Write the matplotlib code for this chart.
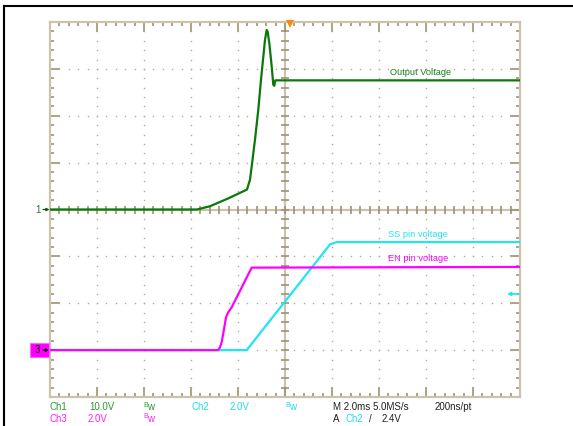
import matplotlib
matplotlib.use("Agg")
import matplotlib.pyplot as plt
import numpy as np
from matplotlib.lines import Line2D
from matplotlib.patches import Rectangle

plt.rcParams["font.family"] = ["Liberation Sans", "DejaVu Sans"]

# scope settings
ms_per_div = 2.0
trig_time = 0.2  # ms
trig_level = 2.4  # V on Ch2
ch1_scale, ch2_scale, ch3_scale = 10.0, 2.0, 2.0  # V/div
ch1_pos, ch2_pos, ch3_pos = 0.0, -3.0, -3.0  # ground position (div)

# Ch1: output voltage (ms, V)
out_t = [-10.0, -3.745, -3.19, -2.4, -1.617, -1.489, -1.417, -1.277, -1.136,
         -1.021, -0.923, -0.851, -0.779, -0.736, -0.668, -0.566, -0.498,
         -0.455, -0.413, 10.0]
out_v = [0.0, 0.0, 0.7, 2.4, 4.26, 6.38, 9.21, 14.9, 21.3,
         27.7, 32.6, 36.2, 38.3, 37.9, 35.5, 30.5, 26.6,
         26.4, 27.55, 27.55]

# Ch2: SS pin voltage
ss_t = [-10.0, -1.63, 1.915, 2.2, 10.0]
ss_v = [0.0, 0.0, 4.51, 4.61, 4.61]

# Ch3: EN pin voltage
en_t = [-10.0, -2.85, -2.766, -2.694, -2.596, -2.511, -2.413, -2.268, -1.417, 10.0]
en_v = [0.0, 0.0, 0.12, 0.34, 0.89, 1.40, 1.62, 1.83, 3.52, 3.55]

W, H = 573, 426
fig = plt.figure(figsize=(W / 100, H / 100), dpi=100)
fig.patch.set_facecolor("white")

# graticule area in pixels
gx0, gx1, gy0, gy1 = 50, 520, 22, 397
ax = fig.add_axes([gx0 / W, 1 - gy1 / H, (gx1 - gx0) / W, (gy1 - gy0) / H])
ax.set_xlim(-5 * ms_per_div, 5 * ms_per_div)
ax.set_ylim(-4, 4)

border_col = "#cbc3ad"
tick_col = "#9f9273"
dot_col = "#b3ab8e"

for sp in ax.spines.values():
    sp.set_color(border_col)
    sp.set_linewidth(1.6)

ax.set_xticks(np.arange(-10, 10.01, ms_per_div))
ax.set_xticks(np.arange(-10, 10.01, ms_per_div / 5), minor=True)
ax.set_yticks(np.arange(-4, 4.01, 1))
ax.set_yticks(np.arange(-4, 4.01, 0.2), minor=True)
ax.tick_params(which="both", direction="in", top=True, right=True,
               labelbottom=False, labelleft=False, color=tick_col, width=1.2)
ax.tick_params(which="major", length=7)
ax.tick_params(which="minor", length=3)

# dotted division lines
xdiv = [x for x in np.arange(-8, 8.01, ms_per_div) if abs(x) > 1e-6]
ydiv = [y for y in np.arange(-3, 3.01, 1) if abs(y) > 1e-6]
yfine = np.arange(-3.8, 3.81, 0.2)
xfine = np.arange(-9.6, 9.61, ms_per_div / 5)
gx, gy = np.meshgrid(xdiv, yfine)
ax.plot(gx.ravel(), gy.ravel(), ls="none", marker="s", ms=1.0, mew=0, color=dot_col)
gx, gy = np.meshgrid(xfine, ydiv)
ax.plot(gx.ravel(), gy.ravel(), ls="none", marker="s", ms=1.0, mew=0, color=dot_col)

# centre cross with ticks
ax.axhline(0, color=border_col, lw=1.6, zorder=1)
ax.axvline(0, color=border_col, lw=1.6, zorder=1)
ax.plot(xfine, np.zeros_like(xfine), ls="none", marker="|", ms=6, mew=1.2, color=tick_col)
ax.plot(np.zeros_like(yfine), yfine, ls="none", marker="_", ms=6, mew=1.2, color=tick_col)

# traces
ax.plot(ss_t, np.array(ss_v) / ch2_scale + ch2_pos, color="#22e4f2", lw=1.6, zorder=3)
ax.plot(en_t, np.array(en_v) / ch3_scale + ch3_pos, color="#ff00ff", lw=1.6, zorder=4)
ax.plot(out_t, np.array(out_v) / ch1_scale + ch1_pos, color="#0a780a", lw=1.6, zorder=5)

# trace labels
ax.text(4.47, 2.92, "Output Voltage", color="#1a7f1a", fontsize=6.7, va="center")
ax.text(4.38, -0.53, "SS pin voltage", color="#22e4f2", fontsize=6.7, va="center")
ax.text(4.38, -1.04, "EN pin voltage", color="#ff00ff", fontsize=6.7, va="center")

# trigger position marker
ax.plot([trig_time], [3.96], marker="v", ms=6, color="#ff8a00", mew=0,
        clip_on=False, zorder=6)

# trigger level arrow on the right
yt = ax.get_yaxis_transform()
ax.annotate("", xy=(1 - 13 / 470, trig_level / ch2_scale + ch2_pos),
            xytext=(1 - 1 / 470, trig_level / ch2_scale + ch2_pos),
            xycoords=yt, textcoords=yt,
            arrowprops=dict(arrowstyle="-|>", color="#22e4f2", lw=1.2,
                            mutation_scale=5, shrinkA=0, shrinkB=0))

# channel ground markers on the left
ax.text(-12 / 470, ch1_pos, "1", transform=yt, color="#1a7f1a", fontsize=7,
        ha="center", va="center", clip_on=False)
ax.annotate("", xy=(-0.5 / 470, ch1_pos), xytext=(-7 / 470, ch1_pos),
            xycoords=yt, textcoords=yt, annotation_clip=False,
            arrowprops=dict(arrowstyle="-|>", color="#1a4f1a", lw=0.9,
                            mutation_scale=4, shrinkA=0, shrinkB=0))
ax.add_patch(Rectangle((-20 / 470, ch3_pos - 7 / 47), 19 / 470, 14 / 47,
                       transform=yt, facecolor="#ff00ff", edgecolor="#ff66ff",
                       lw=0.8, clip_on=False, zorder=6))
ax.text(-13 / 470, ch3_pos, "3", transform=yt, color="black", fontsize=7,
        ha="center", va="center", clip_on=False, zorder=7)
ax.annotate("", xy=(-1 / 470, ch3_pos), xytext=(-7 / 470, ch3_pos),
            xycoords=yt, textcoords=yt, annotation_clip=False,
            arrowprops=dict(arrowstyle="-|>", color="black", lw=0.9,
                            mutation_scale=4, shrinkA=0, shrinkB=0), zorder=7)

# outer frame
fig.add_artist(Line2D([4 / W, 4 / W], [0, 1 - 6 / H], color="black", lw=1.5))
fig.add_artist(Line2D([4 / W, 1], [1 - 6 / H, 1 - 6 / H], color="black", lw=1.5))

# status readout
green, cyan, magenta = "#2c9a2c", "#22dcec", "#ff22ff"


def put(x, y, s, c, fs=7):
    fig.text(x / W, 1 - y / H, s, color=c, fontsize=fs, ha="left", va="center")


def bw(x, y, c):
    put(x, y - 2, "B", c, fs=5)
    put(x + 4, y, "w", c)


r1, r2 = 407.5, 419
put(49, r1, "Ch1", green)
put(89, r1, f"{ch1_scale:.1f}V", green)
bw(143, r1, green)
put(192, r1, "Ch2", cyan)
put(230, r1, f"{ch2_scale:.1f}V", cyan)
bw(285, r1, cyan)
put(333, r1, f"M {ms_per_div:.1f}ms 5.0MS/s", "#202020")
put(435, r1, "200ns/pt", "#202020")
put(49, r2, "Ch3", magenta)
put(88, r2, f"{ch3_scale:.1f}V", magenta)
bw(143, r2, magenta)
put(333, r2, "A", "#202020")
put(345, r2, "Ch2", cyan)
put(369, r2, "/", "#202020")
put(382, r2, f"{trig_level:.1f}V", "#202020")

fig.savefig("out.png", dpi=100)
